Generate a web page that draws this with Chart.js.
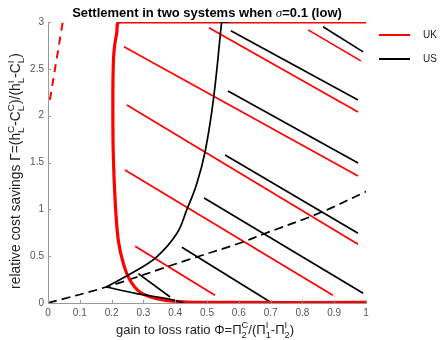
<!DOCTYPE html>
<html>
<head>
<meta charset="utf-8">
<script src="https://cdn.jsdelivr.net/npm/chart.js@4.4.0/dist/chart.umd.min.js"></script>
<style>
  body { margin: 0; background: #fff; }
  #wrap { width: 442px; height: 340px; }
</style>
</head>
<body>
<div id="wrap"><canvas id="myChart"></canvas></div>
<script>
// settlement regions for sigma = 0.1
const xTicks = [0, 0.1, 0.2, 0.3, 0.4, 0.5, 0.6, 0.7, 0.8, 0.9, 1];
const yTicks = [0, 0.5, 1, 1.5, 2, 2.5, 3];

// UK boundary (thick red)
const ukEdgeX = [1, 0.226, 0.216, 0.208, 0.205, 0.204, 0.205, 0.211, 0.221, 0.237, 0.258, 0.289, 0.342, 0.425, 0.541, 1];
const ukEdgeY = [3, 3, 2.88, 2.70, 2.5, 2.17, 1.63, 1.10, 0.67, 0.42, 0.243, 0.118, 0.047, 0.011, 0.006, 0.006];
const ukDashX = [0.006, 0.046];
const ukDashY = [2.17, 2.99];
// hatching, [x0, y0, x1, y1]
const ukHatch = [
  [0.239, 2.735, 0.975, 1.355],
  [0.506, 2.938, 0.975, 2.040],
  [0.818, 2.916, 0.984, 2.585],
  [0.248, 2.114, 0.975, 0.628],
  [0.242, 1.419, 0.896, 0.082],
  [0.274, 0.606, 0.525, 0.082]
];

// US boundary (black)
const usUpperX = [0.183, 0.279, 0.342, 0.405, 0.436, 0.468, 0.494, 0.520, 0.546];
const usUpperY = [0.171, 0.350, 0.492, 0.742, 0.991, 1.277, 1.615, 2.168, 3.0];
const usTopX = [0.546, 0.567];
const usTopY = [3, 3];
const usLowerX = [0.183, 0.279, 0.384, 0.425];
const usLowerY = [0.171, 0.100, 0.040, 0.0];
const usDashX = [0, 0.183, 0.43, 0.604, 0.682, 0.855, 1.0];
const usDashY = [0, 0.171, 0.45, 0.64, 0.742, 0.963, 1.19];
const usHatch = [
  [0.575, 2.906, 0.975, 2.168],
  [0.865, 2.949, 0.991, 2.681],
  [0.566, 2.264, 0.975, 1.494],
  [0.557, 1.580, 0.975, 0.745],
  [0.491, 1.120, 0.991, 0.104],
  [0.421, 0.595, 0.704, 0.0],
  [0.284, 0.314, 0.384, 0.064]
];

const legendNames = ['UK', 'US'];
const RED = '#ff0000';
const BLACK = '#000000';

function pts(xs, ys) {
  return xs.map((x, i) => ({x: x, y: ys[i]}));
}

function line(xs, ys, color, width, extra) {
  return Object.assign({
    data: pts(xs, ys),
    showLine: true,
    borderColor: color,
    borderWidth: width,
    pointRadius: 0,
    tension: 0,
    fill: false
  }, extra || {});
}

const datasets = [];
ukHatch.forEach(h => datasets.push(line([h[0], h[2]], [h[1], h[3]], RED, 1.7, {order: 5})));
usHatch.forEach(h => datasets.push(line([h[0], h[2]], [h[1], h[3]], BLACK, 1.7, {order: 4})));
datasets.push(line(usDashX, usDashY, BLACK, 1.7, {borderDash: [9, 5], tension: 0.4, order: 3}));
datasets.push(line(ukDashX, ukDashY, RED, 2, {borderDash: [8, 6], order: 3}));
datasets.push(line(ukEdgeX, ukEdgeY, RED, 3.2, {tension: 0.35, order: 2}));
datasets.push(line(usUpperX, usUpperY, BLACK, 1.7, {tension: 0.4, order: 1}));
datasets.push(line(usTopX, usTopY, BLACK, 1.7, {order: 1}));
datasets.push(line(usLowerX, usLowerY, BLACK, 1.7, {tension: 0.4, order: 1}));

const FONT = '"Liberation Sans", Arial, sans-serif';

// text with stacked sub/superscripts
function richWidth(ctx, parts, size) {
  let w = 0;
  parts.forEach(p => {
    if (typeof p === 'string') {
      ctx.font = size + 'px ' + FONT;
      w += ctx.measureText(p).width;
    } else {
      ctx.font = (size * 0.72) + 'px ' + FONT;
      w += Math.max(ctx.measureText(p.sub).width, ctx.measureText(p.sup).width);
    }
  });
  return w;
}

function drawRich(ctx, parts, cx, y, size) {
  let x = cx - richWidth(ctx, parts, size) / 2;
  ctx.textAlign = 'left';
  ctx.textBaseline = 'alphabetic';
  parts.forEach(p => {
    if (typeof p === 'string') {
      ctx.font = size + 'px ' + FONT;
      ctx.fillText(p, x, y);
      x += ctx.measureText(p).width;
    } else {
      ctx.font = (size * 0.72) + 'px ' + FONT;
      ctx.fillText(p.sup, x, y - size * 0.45);
      ctx.fillText(p.sub, x, y + size * 0.28);
      x += Math.max(ctx.measureText(p.sub).width, ctx.measureText(p.sup).width);
    }
  });
}

const xTitle = ['gain to loss ratio \u03A6=\u03A0', {sub: '2', sup: 'C'}, '/(\u03A0', {sub: '1', sup: 'I'},
  '-\u03A0', {sub: '2', sup: 'I'}, ')'];
const yTitle = ['relative cost savings \u0393=(h', {sub: 'L', sup: 'C'}, '-C', {sub: 'L', sup: 'C'},
  ')/(h', {sub: 'L', sup: 'I'}, '-C', {sub: 'L', sup: 'I'}, ')'];

const decorations = {
  id: 'decorations',
  afterDraw(chart) {
    const ctx = chart.ctx;
    const xs = chart.scales.x, ys = chart.scales.y;
    const area = chart.chartArea;
    ctx.save();

    // inward tick marks
    ctx.strokeStyle = '#999';
    ctx.lineWidth = 1;
    ctx.beginPath();
    xTicks.forEach(v => {
      const px = Math.round(xs.getPixelForValue(v)) + 0.5;
      ctx.moveTo(px, area.bottom);
      ctx.lineTo(px, area.bottom - 3);
    });
    yTicks.forEach(v => {
      const py = Math.round(ys.getPixelForValue(v)) + 0.5;
      ctx.moveTo(area.left, py);
      ctx.lineTo(area.left + 3, py);
    });
    ctx.stroke();

    // title
    ctx.fillStyle = '#000';
    ctx.textBaseline = 'alphabetic';
    const t1 = 'Settlement in two systems when ', t2 = '\u03C3', t3 = '=0.1 (low)';
    const bold = 'bold 13px ' + FONT, ital = 'italic 13px "Liberation Serif", serif';
    ctx.font = bold; const w1 = ctx.measureText(t1).width, w3 = ctx.measureText(t3).width;
    ctx.font = ital; const w2 = ctx.measureText(t2).width;
    let tx = (area.left + area.right) / 2 - (w1 + w2 + w3) / 2;
    ctx.textAlign = 'left';
    ctx.font = bold; ctx.fillText(t1, tx, 17); tx += w1;
    ctx.font = ital; ctx.fillText(t2, tx, 17); tx += w2;
    ctx.font = bold; ctx.fillText(t3, tx, 17);

    // axis titles
    ctx.fillStyle = '#222';
    drawRich(ctx, xTitle, 205, 334, 13);
    ctx.save();
    ctx.translate(20, 171);
    ctx.rotate(-Math.PI / 2);
    drawRich(ctx, yTitle, 0, 0, 13.8);
    ctx.restore();

    // legend
    const colors = [RED, BLACK];
    legendNames.forEach((name, i) => {
      const ly = 35 + i * 24;
      ctx.strokeStyle = colors[i];
      ctx.lineWidth = 2;
      ctx.beginPath();
      ctx.moveTo(379, ly);
      ctx.lineTo(410, ly);
      ctx.stroke();
      ctx.fillStyle = '#222';
      ctx.font = '10px ' + FONT;
      ctx.textBaseline = 'middle';
      ctx.fillText(name, 423, ly);
    });
    ctx.restore();
  }
};

new Chart(document.getElementById('myChart').getContext('2d'), {
  type: 'scatter',
  data: {datasets: datasets},
  options: {
    responsive: true,
    maintainAspectRatio: false,
    animation: false,
    layout: {padding: {left: 0, top: 22, right: 76, bottom: 0}},
    plugins: {legend: {display: false}, tooltip: {enabled: false}},
    scales: {
      x: {
        type: 'linear', min: 0, max: 1,
        grid: {display: false, drawTicks: false},
        border: {display: true, color: '#999', width: 1},
        afterBuildTicks: s => { s.ticks = xTicks.map(v => ({value: v})); },
        afterFit: s => { s.height = 37; },
        ticks: {padding: 4, color: '#555', font: {family: FONT, size: 10}, maxRotation: 0,
                callback: v => String(v)}
      },
      y: {
        type: 'linear', min: 0, max: 3,
        grid: {display: false, drawTicks: false},
        border: {display: true, color: '#999', width: 1},
        afterBuildTicks: s => { s.ticks = yTicks.map(v => ({value: v})); },
        afterFit: s => { s.width = 48; },
        ticks: {padding: 4, color: '#555', font: {family: FONT, size: 10},
                callback: v => String(v)}
      }
    }
  },
  plugins: [decorations]
});
</script>
</body>
</html>
